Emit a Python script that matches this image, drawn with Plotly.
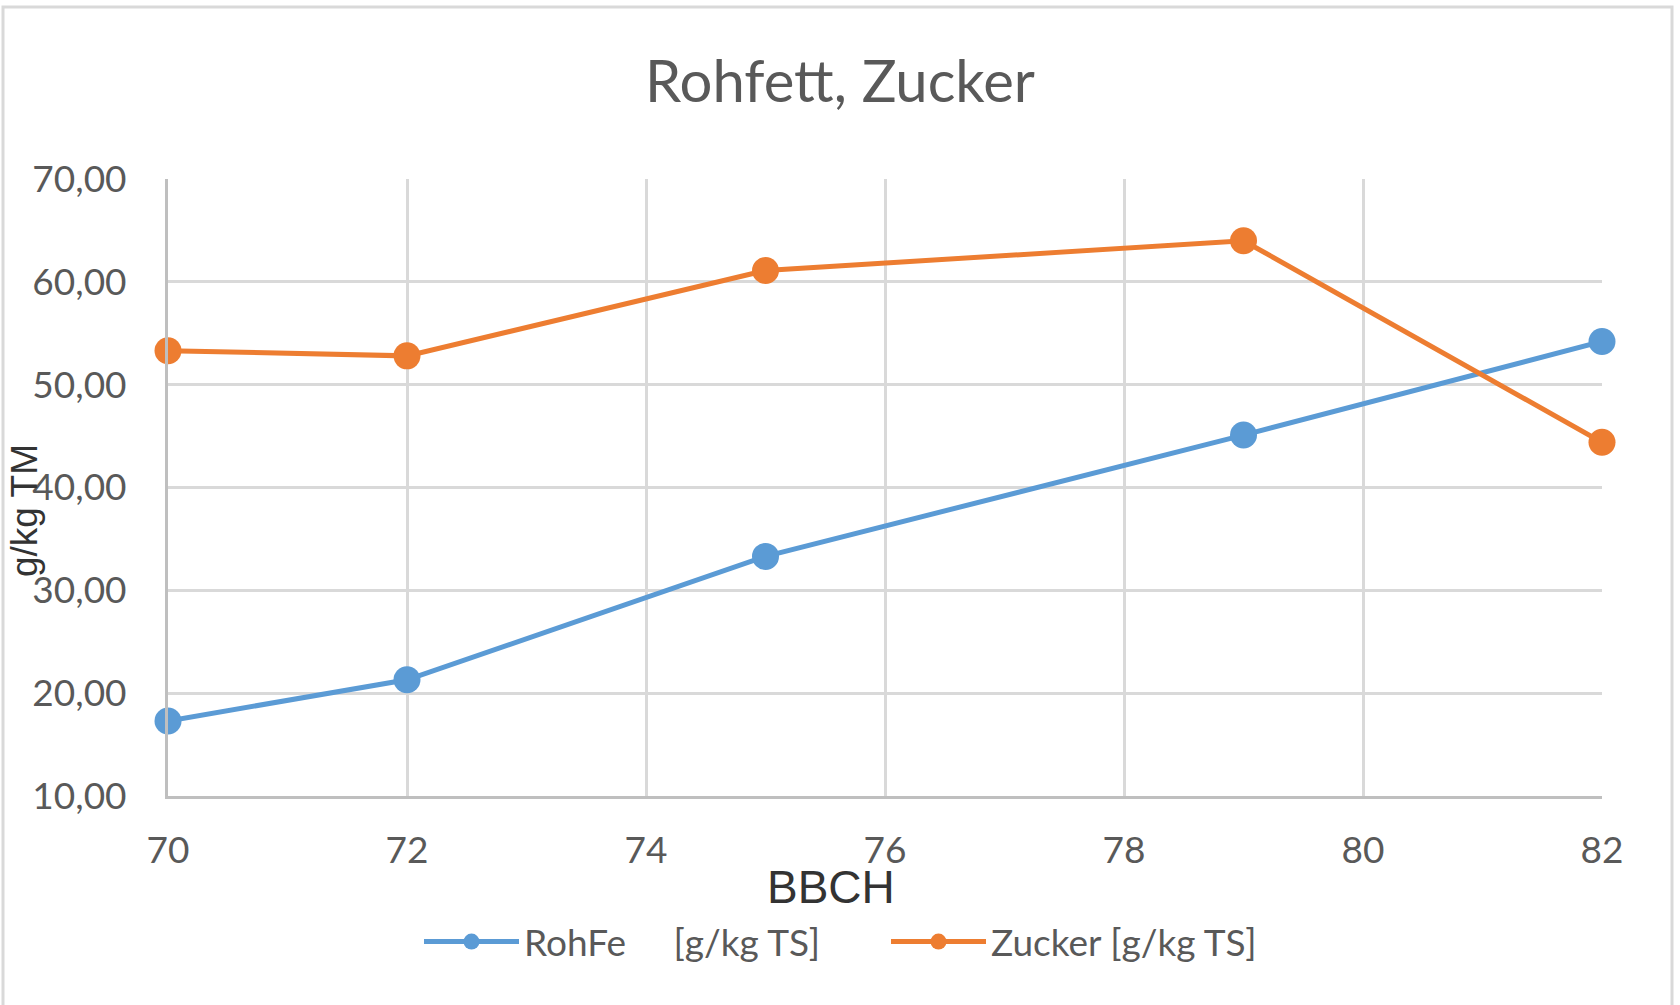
import plotly.graph_objects as go

# Data
bbch = [70, 72, 75, 79, 82]
rohfe = [17.3, 21.3, 33.3, 45.1, 54.2]
zucker = [53.3, 52.8, 61.1, 64.0, 44.4]
name_rohfe = "RohFe\u00a0\u00a0\u00a0\u00a0\u00a0[g/kg TS]"
name_zucker = "Zucker [g/kg TS]"
x_ticks = [70, 72, 74, 76, 78, 80, 82]
y_ticks = [10, 20, 30, 40, 50, 60, 70]

W, H = 1680, 1005
L, R, T, B = 168, 78, 179, 209
PW, PH = W - L - R, H - T - B

def px(x):
    return (x - L) / PW

def py(y):
    return (H - B - y) / PH

BLUE = "#5B9BD5"
ORANGE = "#ED7D31"
GRID = "#D9D9D9"
TXT = "#595959"

fig = go.Figure()
fig.add_trace(go.Scatter(x=bbch, y=rohfe, name=name_rohfe, mode="lines+markers",
                         line=dict(color=BLUE, width=5), cliponaxis=False,
                         marker=dict(color=BLUE, size=27)))
fig.add_trace(go.Scatter(x=bbch, y=zucker, name=name_zucker, mode="lines+markers",
                         line=dict(color=ORANGE, width=5), cliponaxis=False,
                         marker=dict(color=ORANGE, size=27)))

fig.update_layout(
    width=W, height=H,
    margin=dict(l=L, r=R, t=T, b=B, autoexpand=False),
    paper_bgcolor="white", plot_bgcolor="white",
    separators=",.",
    font=dict(family="Lato, Carlito, sans-serif", color=TXT, size=37),
    title=dict(text="Rohfett, Zucker", x=0.5, xref="container", xanchor="center",
               y=1 - 82 / H, yref="container", yanchor="middle",
               font=dict(family="Lato, sans-serif", size=58, color=TXT)),
    showlegend=True,
    legend=dict(orientation="h", x=419 / W, xanchor="left", xref="container",
                y=1 - 942 / H, yref="container", yanchor="middle",
                font=dict(family="Lato, sans-serif", size=37, color=TXT),
                itemwidth=95, bgcolor="rgba(0,0,0,0)", itemsizing="trace",
                entrywidth=357, entrywidthmode="pixels"),
    xaxis=dict(range=[70, 82], tickvals=x_ticks, ticktext=[str(v) for v in x_ticks],
               showgrid=True, gridcolor=GRID, gridwidth=2.5,
               showline=True, linecolor="#BFBFBF", linewidth=3,
               zeroline=False, ticks="", ticklabelstandoff=20,
               tickfont=dict(family="Lato, sans-serif", size=37, color=TXT)),
    yaxis=dict(range=[10, 70], tickvals=y_ticks, tickformat=".2f",
               showgrid=True, gridcolor=GRID, gridwidth=2.5,
               showline=True, linecolor="#BFBFBF", linewidth=3,
               zeroline=False, ticks="", ticklabelstandoff=31,
               tickfont=dict(family="Lato, sans-serif", size=37, color=TXT)),
    annotations=[
        dict(text="BBCH", xref="paper", yref="paper", x=px(831), y=py(887),
             xanchor="center", yanchor="middle", showarrow=False,
             font=dict(family="Liberation Sans Narrow, Liberation Sans, Arial", size=46, color="#333333")),
        dict(text="g/kg TM", xref="paper", yref="paper", x=px(24), y=py(511),
             xanchor="center", yanchor="middle", showarrow=False, textangle=-90,
             font=dict(family="Liberation Sans, Arial", size=37, color="#333333")),
    ],
    shapes=[
        dict(type="rect", xref="paper", yref="paper",
             x0=px(3), x1=px(1672), y0=py(1012), y1=py(7),
             line=dict(color=GRID, width=3), fillcolor="rgba(0,0,0,0)", layer="below"),
    ],
)

fig.write_html("out.html", config={"displayModeBar": False},
               post_script="document.body.style.margin='0';")
